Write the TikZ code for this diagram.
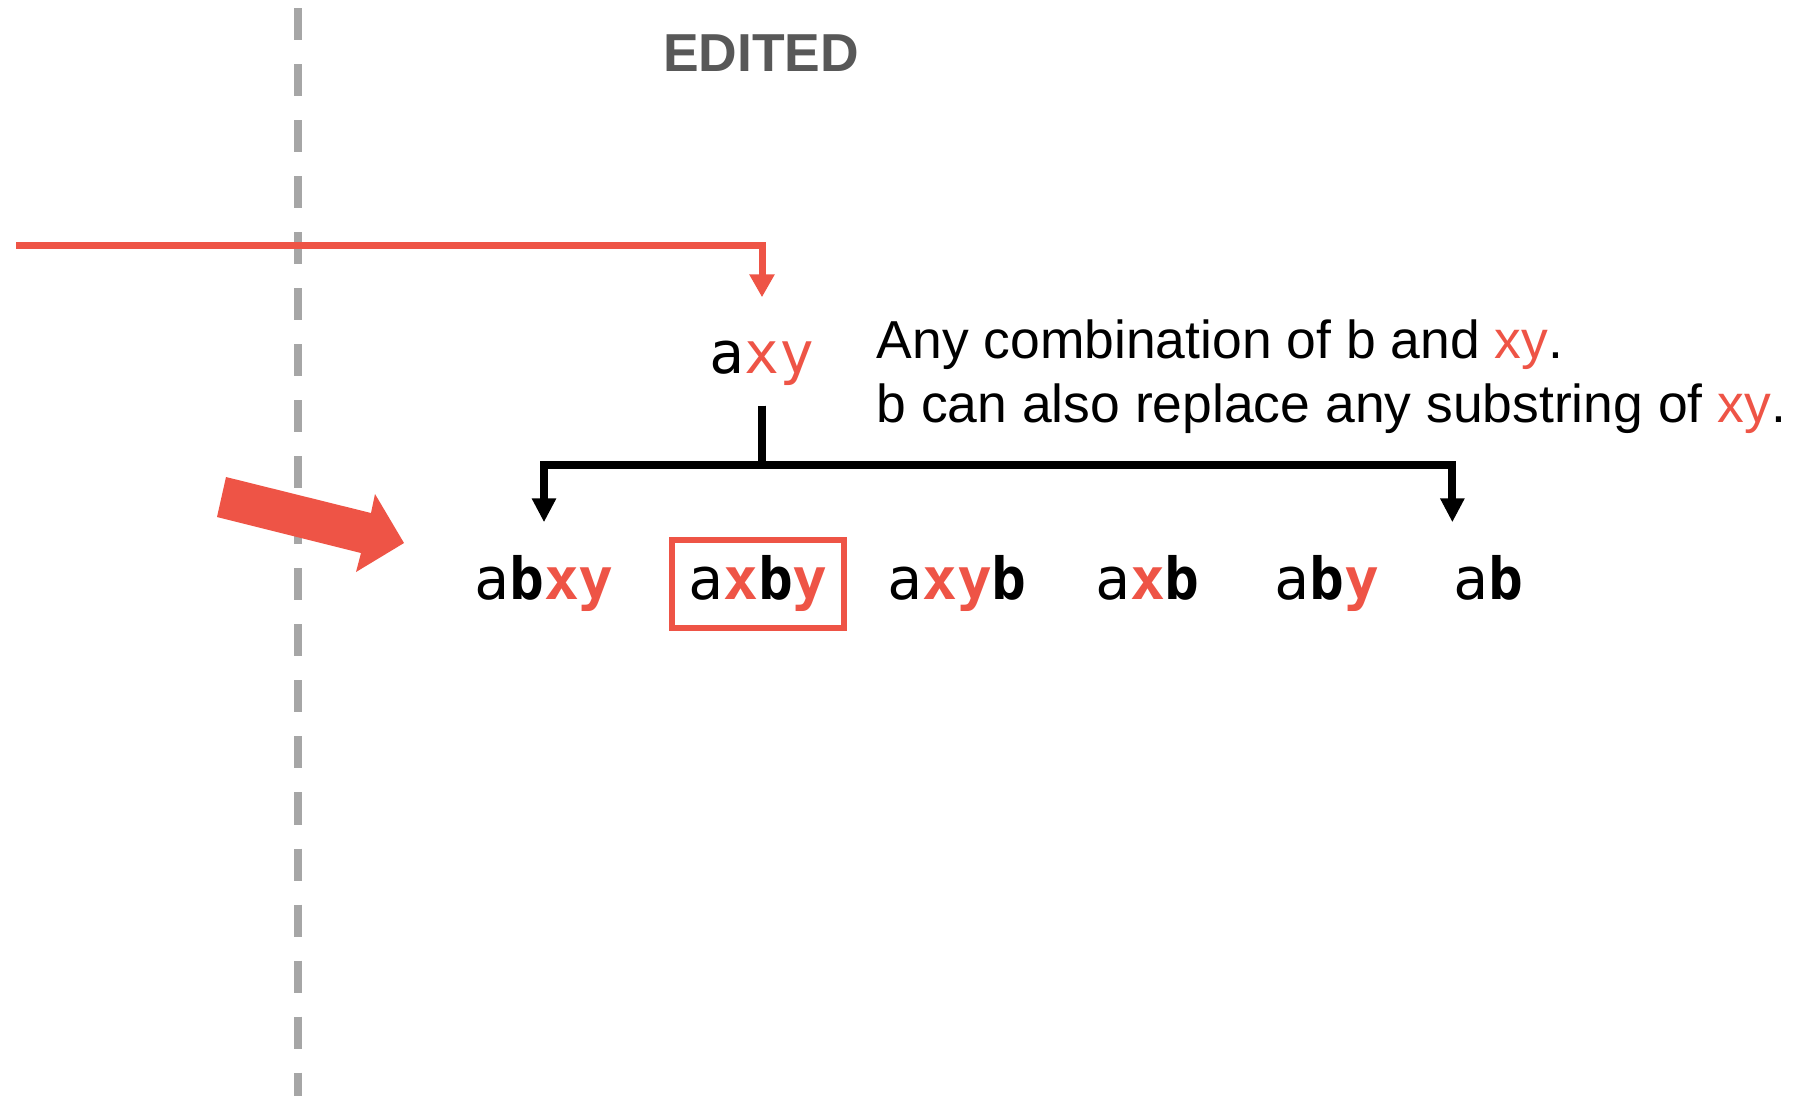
\documentclass[tikz,border=0pt]{standalone}
\usepackage{fontspec}
\setmainfont{Liberation Sans}
\newfontfamily\codefont{DejaVu Sans Mono}
\definecolor{editred}{RGB}{238,84,70}
\definecolor{dividergray}{RGB}{166,166,166}
\definecolor{titlegray}{RGB}{88,88,88}
\usetikzlibrary{arrows.meta, positioning}
\newcommand{\hl}[1]{{\color{editred}#1}}
\newcommand{\hlb}[1]{{\bfseries\color{editred}#1}}
\tikzset{
    wordbox/.style={font=\codefont\fontsize{16.5pt}{20pt}\selectfont, inner sep=0pt,
                    text height=0.44cm, text depth=0.135cm, anchor=base},
    pickbox/.style={wordbox, draw=editred, line width=0.06cm, inner xsep=0.16cm, inner ysep=0.15cm},
    notebox/.style={font=\fontsize{15.2pt}{18pt}\selectfont, inner sep=0pt, anchor=base west},
    titlebox/.style={font=\bfseries\fontsize{15.2pt}{18pt}\selectfont, text=titlegray, inner sep=0pt, anchor=base},
    treearrow/.style={-{Triangle[width=0.23cm,length=0.24cm]}, line width=0.08cm, black},
    editarrow/.style={-{Triangle[width=0.24cm,length=0.23cm]}, line width=0.07cm, editred},
    divider/.style={dividergray, line width=0.075cm, dash pattern=on 0.32cm off 0.24cm},
}

\begin{document}
\begin{tikzpicture}[x=0.01cm, y=-0.01cm]
    \useasboundingbox (0,0) rectangle (1794,1096);
    \draw[divider] (298,8) -- (298,1096);

    \node[titlebox] (title) at (761,71) {EDITED};

    \node[wordbox] (axy) at (762,373) {a\hl{xy}};
    \node[notebox] (note1) at (876,358) {Any combination of b and \hl{xy}.};
    \node[notebox] (note2) at (876,422) {b can also replace any substring of \hl{xy}.};

    \node[wordbox] (abxy) at (544,599) {a\textbf{b}\hlb{xy}};
    \node[pickbox] (axby) at (758,599) {a\hlb{x}\textbf{b}\hlb{y}};
    \node[wordbox] (axyb) at (957,599) {a\hlb{xy}\textbf{b}};
    \node[wordbox] (axb) at (1147.5,599) {a\hlb{x}\textbf{b}};
    \node[wordbox] (aby) at (1327,599) {a\textbf{b}\hlb{y}};
    \node[wordbox] (ab) at (1488,599) {a\textbf{b}};

    \coordinate (src) at (16,245);
    \coordinate (fork) at (762,465);
    \draw[editarrow, shorten >=0.31cm] (src) -| (axy.north);
    \draw[treearrow, shorten <=0.185cm, shorten >=0.32cm] (axy.south) -- (fork) -| (abxy.north);
    \draw[treearrow, shorten <=0.185cm, shorten >=0.32cm] (axy.south) -- (fork) -| (ab.north west);

    \fill[editred] (226,477) -- (371,513) -- (375,494) -- (404,543) -- (356,572) -- (361,553) -- (217,517) -- cycle;
\end{tikzpicture}
\end{document}
